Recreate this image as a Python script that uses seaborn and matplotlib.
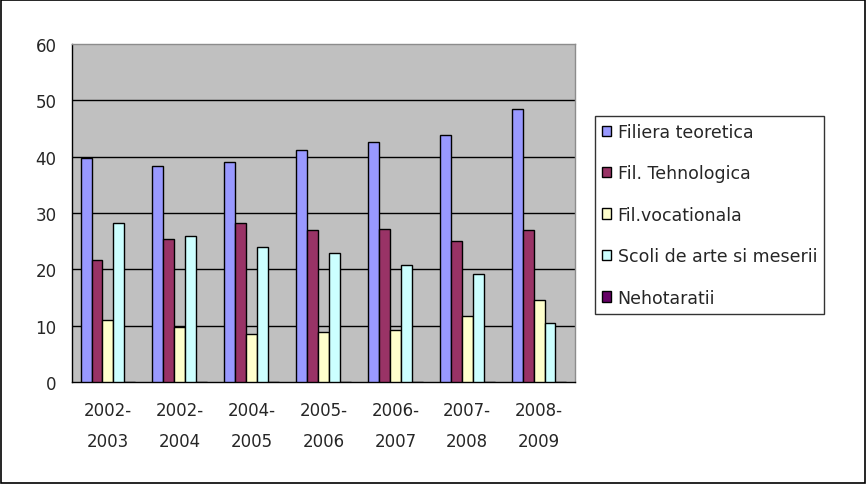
import matplotlib
matplotlib.use("Agg")
import matplotlib.pyplot as plt
from matplotlib.patches import Rectangle
import seaborn as sns
import pandas as pd
import numpy as np

# data
years = ["2002-\n2003", "2002-\n2004", "2004-\n2005", "2005-\n2006",
         "2006-\n2007", "2007-\n2008", "2008-\n2009"]
series = ["Filiera teoretica", "Fil. Tehnologica", "Fil.vocationala",
          "Scoli de arte si meserii", "Nehotaratii"]
teoretica = [39.8, 38.4, 39.0, 41.1, 42.6, 43.9, 48.5]
tehnologica = [21.7, 25.4, 28.2, 26.9, 27.2, 25.1, 26.9]
vocationala = [11.0, 9.8, 8.6, 8.9, 9.2, 11.8, 14.6]
arte_meserii = [28.2, 26.0, 23.9, 22.9, 20.8, 19.1, 10.4]
nehotaratii = [0, 0, 0, 0, 0, 0, 0]
colors = ["#9999FF", "#993366", "#FFFFCC", "#CCFFFF", "#660066"]

rows = []
for name, vals in zip(series, [teoretica, tehnologica, vocationala, arte_meserii, nehotaratii]):
    for y, v in zip(years, vals):
        rows.append({"year": y, "series": name, "value": v})
df = pd.DataFrame(rows)

sns.set_style("white")
plt.rcParams['font.family'] = ['DejaVu Sans']

fig = plt.figure(figsize=(8.67, 4.85), dpi=100)
ax = fig.add_axes([72/867, 1 - 383/485, (575-72)/867, (383-45)/485])

sns.barplot(data=df, x="year", y="value", hue="series", palette=colors,
            order=years, hue_order=series, width=0.76, gap=0,
            edgecolor="black", linewidth=1, saturation=1, ax=ax, zorder=3)

ax.set_facecolor("#C0C0C0")
ax.set_ylim(0, 60)
ax.set_xlim(-0.5, len(years) - 0.5)
ax.set_yticks(range(0, 61, 10))
for v in range(10, 60, 10):
    ax.axhline(v, color="black", linewidth=1, zorder=1)
ax.set_xlabel("")
ax.set_ylabel("")
ax.tick_params(axis="x", length=0, labelsize=12, pad=14)
for lab in ax.get_xticklabels():
    lab.set_linespacing(1.9)
ax.tick_params(axis="y", length=5, width=1, labelsize=12, color="black",
               direction="out", pad=6)
ax.set_xticks(np.arange(-0.5, len(years), 1), minor=True)
ax.tick_params(axis="x", which="minor", length=5, width=1, color="black", direction="out")
for s in ["left", "bottom"]:
    ax.spines[s].set_color("black")
    ax.spines[s].set_linewidth(1)
for s in ["top", "right"]:
    ax.spines[s].set_color("#8C8C8C")
    ax.spines[s].set_linewidth(1)

handles, labels = ax.get_legend_handles_labels()
ax.get_legend().remove()
leg = fig.legend(handles, labels, loc="upper left",
                 bbox_to_anchor=(595/867, 1 - 117/485),
                 frameon=True, fancybox=False, fontsize=12.5,
                 handlelength=0.55, handleheight=0.55, handletextpad=0.35,
                 labelspacing=1.35, borderpad=0.4, borderaxespad=0)
leg.get_frame().set_edgecolor("black")
leg.get_frame().set_linewidth(1)

fig.patches.append(Rectangle((0.001, 0.002), 0.997, 0.996, transform=fig.transFigure,
                             fill=False, edgecolor="black", linewidth=1.2))

fig.savefig("out.png", dpi=100)
